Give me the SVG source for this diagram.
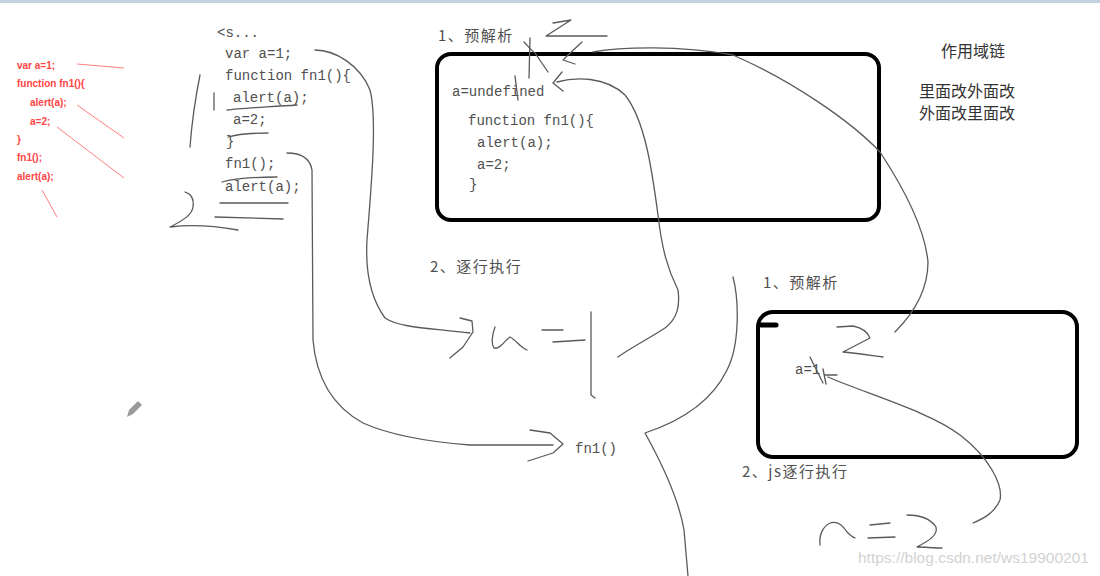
<svg xmlns="http://www.w3.org/2000/svg" width="1100" height="576" viewBox="0 0 1100 576">
<style>
.code{font-family:"Liberation Mono","DejaVu Sans Mono",monospace;font-size:14px;fill:#505050}
.red{font-family:"Liberation Sans","Noto Sans CJK SC",sans-serif;font-size:10px;font-weight:bold;fill:#ff4545}
.lbl{font-family:"Noto Sans CJK SC","Liberation Sans",sans-serif;font-size:15px;fill:#505050;letter-spacing:1.5px}
.note{font-family:"Noto Sans CJK SC","Liberation Sans",sans-serif;font-size:16px;fill:#333}
.box{fill:none;stroke:#000;stroke-width:4}
.hand{fill:none;stroke:#5a5a5a;stroke-width:1.3;stroke-linecap:round;stroke-linejoin:round}
.redl{fill:none;stroke:#ff8080;stroke-width:1}
.wm{font-family:"Liberation Sans",sans-serif;font-size:15.5px;fill:#d2d2d2}
</style>
<rect x="0" y="0" width="1100" height="576" fill="#fff"/>
<rect x="0" y="0" width="1100" height="3" fill="#c5d0e0"/>

<g id="red-code">
<text class="red" x="17" y="69">var a=1;</text>
<text class="red" x="17" y="87">function fn1(){</text>
<text class="red" x="30" y="106">alert(a);</text>
<text class="red" x="30" y="125">a=2;</text>
<text class="red" x="17" y="143">}</text>
<text class="red" x="17" y="161">fn1();</text>
<text class="red" x="17" y="180">alert(a);</text>
<path class="redl" d="M77,64 L124,68 M77,105 L124,138 M57,127 L124,178 M42,190 L57,217"/>
</g>

<g id="source-code">
<text class="code" x="217" y="37">&lt;s...</text>
<text class="code" x="225" y="58">var a=1;</text>
<text class="code" x="225" y="80">function fn1(){</text>
<text class="code" x="233" y="102">alert(a);</text>
<text class="code" x="233" y="124">a=2;</text>
<text class="code" x="226" y="146">}</text>
<text class="code" x="225" y="168">fn1();</text>
<text class="code" x="225" y="191">alert(a);</text>
<path class="hand" d="M200,75 C196,95 192,120 190,147"/>
<path class="hand" d="M214,93 L214,110"/>
<path class="hand" d="M227,110 C240,108 270,107 297,105"/>
<path class="hand" d="M228,137 C238,134 252,133 268,133"/>
<path class="hand" d="M222,182 C235,178 255,177 277,177"/>
<path class="hand" d="M220,203 L288,203"/>
<path class="hand" d="M215,217 L283,219"/>
<path class="hand" d="M185,192 C192,194 194,200 193,207 C192,214 186,219 170,227 C185,225 210,225 238,230"/>
</g>

<g id="global-scope">
<rect class="box" x="437" y="54" width="442" height="166" rx="14"/>
<text class="lbl" x="438" y="41">1、预解析</text>
<text class="code" x="452" y="96">a=undefined</text>
<text class="code" x="468" y="125">function fn1(){</text>
<text class="code" x="477" y="147">alert(a);</text>
<text class="code" x="477" y="169">a=2;</text>
<text class="code" x="469" y="189">}</text>
<path class="hand" d="M553,23 L571,20 L546,36 L607,36"/>
<path class="hand" d="M530,38 L529,78"/>
<path class="hand" d="M524,42 C528,46 531,50 535,53 L548,72"/>
<path class="hand" d="M515,76 L518,100"/>
</g>

<text class="lbl" x="430" y="272">2、逐行执行</text>

<g id="fn-scope">
<rect class="box" x="758" y="312" width="319" height="145" rx="15"/>
<path d="M761,325 L776,325" stroke="#000" stroke-width="5" stroke-linecap="round"/>
<text class="lbl" x="763" y="288">1、预解析</text>
<text class="code" x="795" y="374">a=1</text>
<text class="lbl" x="742" y="477">2、js逐行执行</text>
<path class="hand" d="M837,327 L853,326 C862,328 868,332 870,338 L843,352 C855,353 868,355 883,357"/>
<path class="hand" d="M810,357 L823,383"/>
</g>

<g id="notes">
<text class="note" x="941" y="57">作用域链</text>
<text class="note" x="919" y="97">里面改外面改</text>
<text class="note" x="919" y="119">外面改里面改</text>
</g>

<g id="hand-a1">
<path class="hand" d="M495,327 C492,335 491,344 494,348 C500,350 505,340 510,337 C516,340 520,347 527,350"/>
<path class="hand" d="M542,330 L563,330 M553,342 L585,340"/>
<path class="hand" d="M591,312 L591,395 L595,398"/>
</g>

<g id="hand-fn1">
<text class="code" x="575" y="453">fn1()</text>
</g>

<g id="hand-a2">
<path class="hand" d="M820,545 C819,536 822,527 830,523 C836,521 842,524 847,532 C850,535 852,537 855,538"/>
<path class="hand" d="M870,525 L890,523 M868,538 L895,537"/>
<path class="hand" d="M907,515 C918,515 930,518 936,527 C938,535 930,540 917,547 C925,547 933,548 942,548"/>
</g>

<g id="connectors">
<path class="hand" d="M315,50 C335,50 360,65 370,90 C378,120 370,200 367,240 C365,275 372,300 385,318 C400,328 430,328 470,333"/>
<path class="hand" d="M460,318 L472,321 L473,332 L463,347 L450,358"/>
<path class="hand" d="M287,153 C300,153 310,158 312,170 L313,340 C316,375 330,405 363,423 C390,435 430,442 470,445 L553,445"/>
<path class="hand" d="M530,430 L550,433 L563,444 L553,453 L528,461"/>
<path class="hand" d="M593,52 C620,47 680,45 733,55 C790,80 850,120 880,152 C905,190 925,230 928,262 C928,290 915,312 895,332"/>
<path class="hand" d="M582,42 L568,55 L563,60 L575,64"/>
<path class="hand" d="M557,82 C575,77 605,76 625,95 C645,120 652,170 658,215 C662,250 668,270 678,290 C680,305 678,318 665,328 C650,338 630,348 618,357"/>
<path class="hand" d="M562,72 L553,83 L563,91"/>
<path class="hand" d="M733,277 C739,300 740,345 727,370 C715,395 690,418 645,433 C660,460 678,495 684,530 L688,576"/>
<path class="hand" d="M828,377 C870,395 930,412 960,435 C990,458 1003,485 1000,500 C995,512 985,518 973,523"/>
<path class="hand" d="M825,375 L837,375 M823,369 L826,384"/>
</g>

<path d="M127,417 L129,410 L138,401 L142,405 L133,414 Z" fill="#9a9a9a"/>
<text class="wm" x="858" y="563">https://blog.csdn.net/ws19900201</text>
</svg>
